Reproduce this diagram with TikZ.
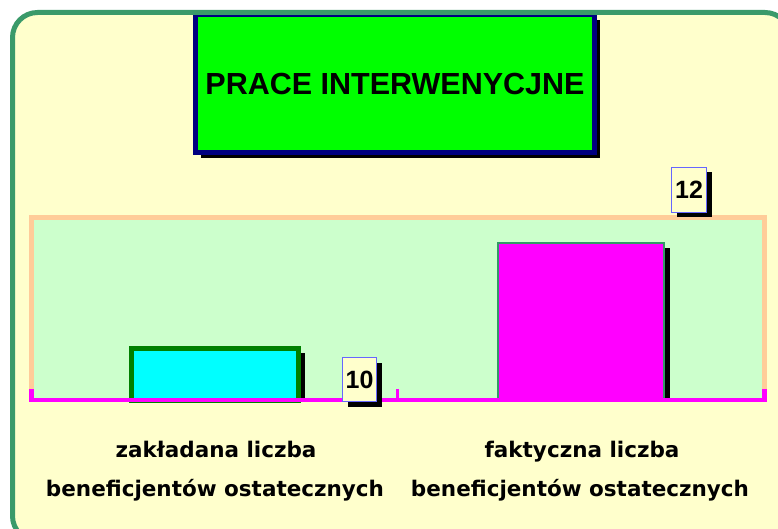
\documentclass[tikz,border=0pt]{standalone}
\usepackage{fontspec}
\setmainfont{Liberation Sans}
\newfontfamily\handfont{DejaVu Sans}
\usetikzlibrary{positioning}
\usetikzlibrary{shadows}
\definecolor{mframe}{HTML}{3A9A6A}
\definecolor{mpaper}{HTML}{FFFFCC}
\definecolor{mplot}{HTML}{CCFFCC}
\definecolor{mpeach}{HTML}{FFCC99}
\definecolor{mnavy}{HTML}{000080}
\definecolor{mlime}{HTML}{00FF00}
\definecolor{mcyan}{HTML}{00FFFF}
\definecolor{mdkgreen}{HTML}{008000}
\definecolor{mmagenta}{HTML}{FF00FF}
\definecolor{mteal}{HTML}{339966}
\definecolor{mlabel}{HTML}{6666FF}
\tikzset{shadowed/.style = {drop shadow = {shadow xshift = 5pt, shadow yshift = -5pt, fill = black, opacity = 1}}}
\tikzset{valbox/.style = {draw = mlabel, fill = mpaper, line width = 1pt, inner sep = 0, shadowed,
    font = \bfseries\fontsize{25}{25}\selectfont}}
\tikzset{caption/.style = {anchor = base, font = \handfont\bfseries\fontsize{21.5}{21.5}\selectfont}}
\tikzset{axis/.style = {mmagenta, line width = 4.5pt}}

\begin{document}
\begin{tikzpicture}[x = 1pt, y = -1pt]
        \useasboundingbox (0, 0) rectangle (778, 529);
        \fill [white] (0, 0) rectangle (778, 529);
        \fill [mpaper, rounded corners = 25pt] (12.5, 12.5) rectangle (790, 541);
        \node [draw = mnavy, fill = mlime, line width = 5pt, shadowed, inner sep = 0,
          minimum width = 399pt, minimum height = 138pt,
          font = \bfseries\fontsize{30.5}{30.5}\selectfont] (title) at (395, 84) {PRACE INTERWENYCJNE};
        \draw [mframe, line width = 5pt, rounded corners = 25pt] (12.5, 12.5) rectangle (790, 541);
        \fill [mplot] (31.5, 217.5) rectangle (764.5, 400);
        \draw [mpeach, line width = 5pt] (31.5, 390) |- (764.5, 217.5) -- (764.5, 390);
        \fill (298, 353) rectangle (304.5, 400);
        \node [draw = mdkgreen, fill = mcyan, line width = 5pt, inner sep = 0,
          minimum width = 166.5pt, minimum height = 52pt] (barplan) at (214.75, 374) {};
        \fill (664, 248) rectangle (670, 400);
        \node [draw = mteal, fill = mmagenta, line width = 2pt, inner sep = 0,
          minimum width = 166pt, minimum height = 157pt] (baractual) at (581, 321.5) {};
        \draw [axis] (29, 400) -- (767, 400);
        \draw [axis] (31.5, 389) -- (31.5, 400);
        \draw [mmagenta, line width = 3pt] (397, 389) -- (397, 400);
        \draw [axis] (764.5, 389) -- (764.5, 400);
        \node [valbox, minimum width = 34pt, minimum height = 44pt] (valplan) at (359.5, 379.5) {10};
        \node [valbox, minimum width = 35pt, minimum height = 45pt] (valactual) at (689, 190) {12};
        \node [caption] (plan1) at (216, 457) {zakładana liczba};
        \node [caption] (plan2) at (215, 496) {beneficjentów ostatecznych};
        \node [caption] (actual1) at (582, 457) {faktyczna liczba};
        \node [caption] (actual2) at (580, 496) {beneficjentów ostatecznych};
      \end{tikzpicture}
\end{document}
